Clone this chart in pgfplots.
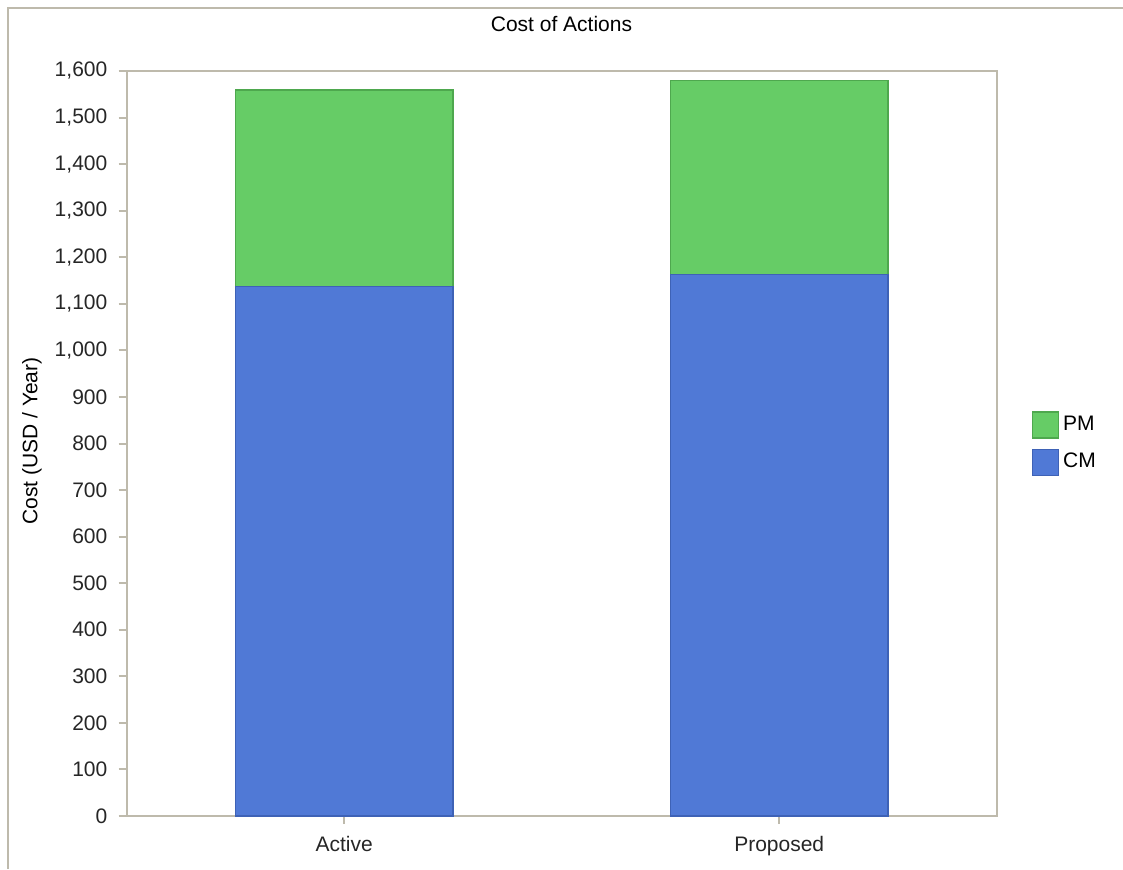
\documentclass[border=0pt]{standalone}
\usepackage{pgfplots}
\pgfplotsset{compat=1.18}
\usepackage{fontspec}
\setmainfont{Liberation Sans}
\definecolor{pmgreen}{RGB}{102,204,102}
\definecolor{pmedge}{RGB}{78,168,78}
\definecolor{cmblue}{RGB}{80,121,214}
\definecolor{cmedge}{RGB}{62,98,182}
\definecolor{framec}{RGB}{190,186,172}
\begin{document}
\fontsize{10.5}{12}\selectfont
\begin{tikzpicture}
\useasboundingbox (0pt,0pt) rectangle (561.5pt,434.5pt);
\draw[framec, line width=1pt] (4pt,0pt) -- (4pt,430.5pt) -- (561.5pt,430.5pt);
\begin{axis}[
  at={(63.35pt,26.5pt)}, anchor=south west,
  scale only axis, width=435pt, height=372.5pt,
  xmin=-0.5, xmax=1.5, ymin=0, ymax=1600,
  ybar stacked, bar width=0.5,
  xtick={0,1}, xticklabels={Active,Proposed},
  ytick={0,100,...,1600},
  /pgf/number format/assume math mode=true,
  /pgf/number format/1000 sep={,},
  tick label style={font=\fontsize{10.5}{12}\selectfont, text=black!85},
  axis line style={framec, line width=1pt},
  tick style={framec, line width=1pt},
  tick align=outside, major tick length=4pt,
  xtick pos=bottom, ytick pos=left,
  xticklabel style={yshift=-2.5pt},
  yticklabel style={xshift=-2pt},
  legend style={draw=none, fill=none, at={(rel axis cs:1.04,0.5)}, anchor=west,
    font=\fontsize{10.5}{12}\selectfont, row sep=5pt, inner sep=0pt},
  legend cell align=left,
  reverse legend,
  legend image code/.code={\draw[#1, line width=0.6pt] (0pt,-6.5pt) rectangle (13pt,6.5pt);},
]
\addplot[fill=cmblue, draw=cmedge, line width=0.6pt] coordinates {(0,1137) (1,1163)};
\addplot[fill=pmgreen, draw=pmedge, line width=0.6pt] coordinates {(0,422) (1,417)};
\legend{CM,PM}
\end{axis}
\node[font=\fontsize{10.5}{12}\selectfont] at (280.75pt,422.5pt) {Cost of Actions};
\node[rotate=90, font=\fontsize{10.5}{12}\selectfont] at (16pt,214pt) {Cost (USD / Year)};
\end{tikzpicture}
\end{document}
